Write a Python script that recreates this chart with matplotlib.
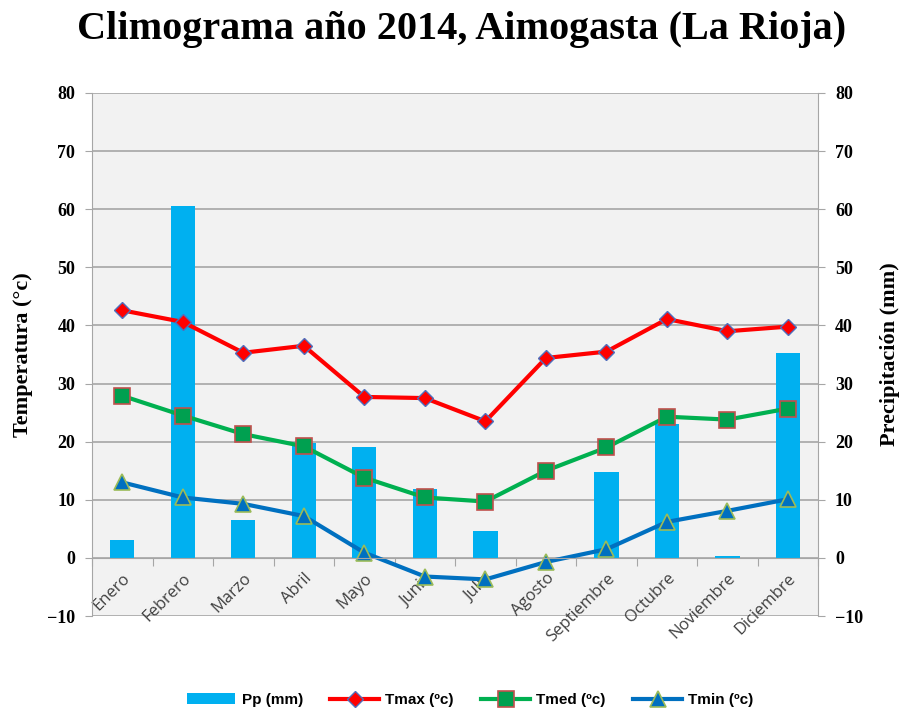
import matplotlib
matplotlib.use("Agg")
import matplotlib.pyplot as plt
import numpy as np
from matplotlib.ticker import FixedLocator, NullFormatter

months = ["Enero", "Febrero", "Marzo", "Abril", "Mayo", "Junio", "Julio",
          "Agosto", "Septiembre", "Octubre", "Noviembre", "Diciembre"]
pp = [3.0, 60.5, 6.5, 19.8, 19.0, 11.8, 4.7, 0.0, 14.8, 23.0, 0.4, 35.3]
tmax = [42.6, 40.6, 35.3, 36.5, 27.7, 27.5, 23.5, 34.4, 35.5, 41.1, 39.0, 39.8]
tmed = [27.9, 24.5, 21.3, 19.2, 13.8, 10.4, 9.7, 15.0, 19.0, 24.3, 23.8, 25.7]
tmin = [13.0, 10.4, 9.3, 7.2, 0.9, -3.2, -3.7, -0.7, 1.5, 6.2, 8.1, 10.1]
yticks = list(range(-10, 81, 10))

title = "Climograma año 2014, Aimogasta (La Rioja)"
ylabel_left = "Temperatura (°c)"
ylabel_right = "Precipitación (mm)"

fig = plt.figure(figsize=(9.09, 7.13), dpi=100)
ax = fig.add_axes([0.1012, 0.136, 0.799, 0.7336])
ax2 = ax.twinx()

x = np.arange(len(months))
serif = "Liberation Serif"
gridc = "#A6A6A6"

# bottom axes: background, grid, bars (precipitation)
ax.set_zorder(2)
ax2.set_zorder(1)
ax.patch.set_visible(False)
ax2.patch.set_visible(True)
ax2.patch.set_facecolor("#F2F2F2")
ax2.set_axisbelow(True)
ax2.yaxis.grid(True, color=gridc, linewidth=1.2)
ax2.bar(x, pp, width=0.4, color="#00B0F0", label="Pp (mm)", zorder=2)

# top axes: temperature lines
ax.plot(x, tmax, color="#FF0000", lw=3, marker="D", ms=8, mfc="#FF0000",
        mec="#4F6FBD", mew=1, label="Tmax (ºc)")
ax.plot(x, tmed, color="#00B050", lw=3, marker="s", ms=11, mfc="#00A050",
        mec="#C0504D", mew=1.2, label="Tmed (ºc)")
ax.plot(x, tmin, color="#0070C0", lw=3, marker="^", ms=11, mfc="#0070C0",
        mec="#9BBB59", mew=1.2, label="Tmin (ºc)")

for a in (ax, ax2):
    a.set_ylim(-10, 80)
    a.set_xlim(-0.5, len(months) - 0.5)
    a.set_yticks(yticks)
    for s in a.spines.values():
        s.set_color(gridc)

ax.spines["top"].set_visible(False)
ax2.spines["top"].set_visible(False)
ax2.spines["bottom"].set_visible(False)
ax.spines["right"].set_visible(False)
ax2.spines["left"].set_visible(False)
ax.spines["bottom"].set_position(("data", 0))
ax.spines["bottom"].set_color(gridc)

ax.tick_params(axis="y", length=5, color=gridc, labelsize=13, pad=7)
ax2.tick_params(axis="y", length=5, color=gridc, labelsize=13, pad=7)
for lab in ax.get_yticklabels() + ax2.get_yticklabels():
    lab.set_fontfamily(serif)
    lab.set_fontweight("bold")

# category ticks at boundaries, labels at centers
ax.xaxis.set_major_locator(FixedLocator(np.arange(-0.5, len(months), 1.0)))
ax.xaxis.set_major_formatter(NullFormatter())
ax.xaxis.set_minor_locator(FixedLocator(x))
ax.set_xticklabels(months, minor=True, rotation=45, ha="right",
                   rotation_mode="anchor", fontsize=12, color="#404040",
                   fontfamily="Open Sans")
ax.tick_params(axis="x", which="major", length=6, color=gridc, direction="out")
ax.tick_params(axis="x", which="minor", length=0, pad=9)
ax2.tick_params(axis="x", which="both", length=0, labelbottom=False)

ax.set_ylabel(ylabel_left, fontfamily=serif, fontweight="bold", fontsize=16, labelpad=10)
ax2.set_ylabel(ylabel_right, fontfamily=serif, fontweight="bold", fontsize=16,
               rotation=90, labelpad=12)

fig.suptitle(title, x=0.508, y=0.985, fontfamily=serif, fontweight="bold", fontsize=29)

h1, l1 = ax2.get_legend_handles_labels()
h2, l2 = ax.get_legend_handles_labels()
fig.legend(h1 + h2, l1 + l2, loc="center", bbox_to_anchor=(0.517, 0.018), ncol=4,
           frameon=False, prop={"family": "Liberation Sans", "weight": "bold", "size": 11},
           handlelength=3.2, handletextpad=0.4, columnspacing=1.8)

fig.savefig("out.png", dpi=100)
